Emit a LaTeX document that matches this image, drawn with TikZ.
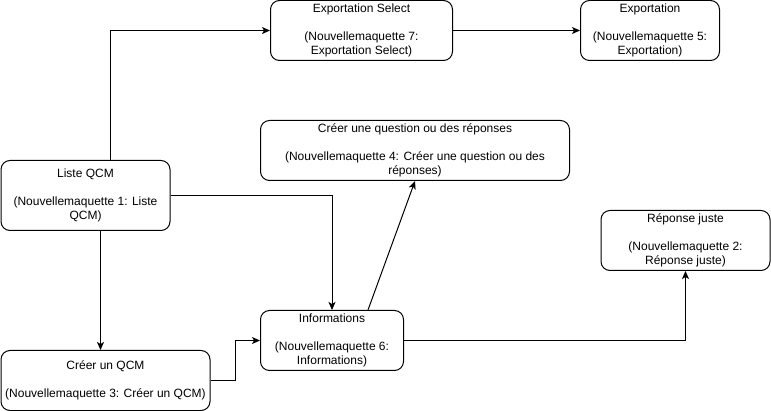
\documentclass[tikz,border=0pt]{standalone}
\usepackage{fontspec}
\setmainfont{Liberation Sans}
\usepackage{tikz}
\usetikzlibrary{arrows.meta}

\tikzset{
	ecran/.style={draw, line width=1pt, rounded corners=9pt, align=center,
		font=\fontsize{12}{14}\selectfont, inner sep=0pt, minimum height=60pt},
	lien/.style={->, line width=1pt}
}

\begin{document}
\begin{tikzpicture}[x=1pt,y=-1pt,>={Stealth[length=8pt,width=7pt,inset=2pt]}]
		\useasboundingbox (0,0) rectangle (771,411);

		\node[ecran, minimum width=182pt] (select) at (361.5,30.5) {Exportation Select\\[14pt](Nouvellemaquette 7:\\Exportation Select)};
		\node[ecran, minimum width=139pt] (export) at (650,30.5) {Exportation\\[14pt](Nouvellemaquette 5:\\Exportation)};
		\node[ecran, minimum width=309pt] (question) at (415,150.5) {Créer une question ou des réponses\\[14pt](Nouvellemaquette 4: Créer une question ou des\\réponses)};
		\node[ecran, minimum width=169pt, minimum height=70pt] (liste) at (85.5,195.5) {Liste QCM\\[14pt](Nouvellemaquette 1: Liste\\QCM)};
		\node[ecran, minimum width=169pt] (reponse) at (685.5,240.5) {Réponse juste\\[14pt](Nouvellemaquette 2:\\Réponse juste)};
		\node[ecran, minimum width=143pt] (infos) at (332,340.5) {Informations\\[14pt](Nouvellemaquette 6:\\Informations)};
		\node[ecran, minimum width=209pt] (creer) at (105.5,380.5) {Créer un QCM\\[14pt](Nouvellemaquette 3: Créer un QCM)};

		\draw[lien] ([xshift=25pt]liste.north) |- (select.west);
		\draw[lien] (select.east) -- (export.west);
		\draw[lien] (liste.east) -| (infos.north);
		\draw[lien] ([xshift=15pt]liste.south) -- ([xshift=-5pt]creer.north);
		\draw[lien] (creer.east) -- ++(25,0) |- (infos.west);
		\draw[lien] ([xshift=36pt]infos.north) -- (question.south);
		\draw[lien] (infos.east) -| (reponse.south);
	\end{tikzpicture}
\end{document}
